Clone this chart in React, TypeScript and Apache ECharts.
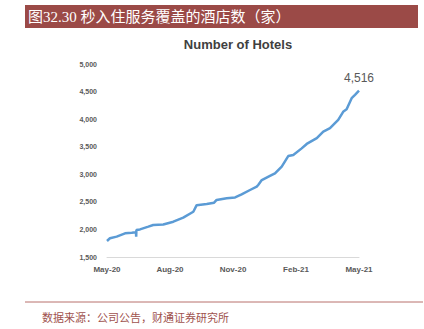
import React, { useEffect, useRef } from "react";
import * as echarts from "echarts";

const xTickLabels = ["May-20", "Aug-20", "Nov-20", "Feb-21", "May-21"];
// months since May-20
const months = [0, 0.14, 0.46, 0.86, 1.18, 1.38, 1.39, 1.4, 1.57, 1.97, 2.2, 2.68, 3.16, 3.63, 4.11, 4.27, 4.75, 5.1, 5.22, 5.7, 6.1, 6.41, 6.81, 7.13, 7.2, 7.37, 7.76, 8.0, 8.32, 8.63, 8.87, 9.27, 9.51, 9.99, 10.3, 10.62, 11.01, 11.26, 11.41, 11.65, 11.81, 12];
const hotels = [1790, 1840, 1870, 1930, 1940, 1948, 1870, 1990, 2000, 2050, 2080, 2090, 2140, 2215, 2320, 2440, 2460, 2485, 2535, 2565, 2580, 2635, 2715, 2775, 2805, 2895, 2970, 3015, 3140, 3330, 3350, 3470, 3550, 3655, 3775, 3835, 3985, 4140, 4180, 4380, 4440, 4516];

const titleText = "图32.30 秒入住服务覆盖的酒店数（家）";
const chartTitle = "Number of Hotels";
const sourceText = "数据来源：公司公告，财通证券研究所";

export default function App() {
  const ref = useRef<HTMLDivElement>(null);
  useEffect(() => {
    if (!ref.current) return;
    const chart = echarts.init(ref.current, undefined, { renderer: "svg" });
    const data = months.map((m, i) => [m, hotels[i]]);
    chart.setOption({
      animation: false,
      backgroundColor: "#ffffff",
      title: {
        text: chartTitle,
        left: 233,
        textAlign: "center",
        top: 33,
        textStyle: { fontSize: 13, fontWeight: "bold", color: "#404040", fontFamily: "Liberation Sans, Arial, sans-serif" },
      },
      grid: { left: 107, right: 65, top: 64, bottom: 72 },
      xAxis: {
        type: "value",
        min: 0,
        max: 12,
        interval: 3,
        axisLine: { show: true, lineStyle: { color: "#d9d9d9", width: 1 } },
        axisTick: { show: false },
        splitLine: { show: false },
        axisLabel: {
          formatter: (v: number) => xTickLabels[Math.round(v / 3)] ?? "",
          color: "#595959",
          fontSize: 8,
          fontWeight: "bold",
          fontFamily: "Liberation Sans, Arial, sans-serif",
          margin: 8,
        },
      },
      yAxis: {
        type: "value",
        min: 1500,
        max: 5000,
        interval: 500,
        axisLine: { show: false },
        axisTick: { show: false },
        splitLine: { show: false },
        axisLabel: {
          formatter: (v: number) => v.toLocaleString("en-US"),
          color: "#595959",
          fontSize: 7,
          fontWeight: "bold",
          fontFamily: "Liberation Sans, Arial, sans-serif",
          margin: 10,
        },
      },
      series: [
        {
          type: "line",
          data,
          showSymbol: false,
          symbol: "none",
          lineStyle: { color: "#5b9bd5", width: 2.5 },
          itemStyle: { color: "#5b9bd5" },
          endLabel: {
            show: true,
            distance: 0,
            align: "center",
            verticalAlign: "bottom",
            offset: [0, -7],
            formatter: (p: any) => Number(p.value[1]).toLocaleString("en-US"),
            color: "#595959",
            fontSize: 12,
            fontFamily: "Liberation Sans, Arial, sans-serif",
          },
        },
      ],
      graphic: [
        { type: "rect", shape: { x: 25, y: 5, width: 393, height: 23 }, style: { fill: "#9b4a47" } },
        {
          type: "text",
          x: 28,
          y: 16.5,
          style: {
            text: titleText,
            fill: "#ffffff",
            fontSize: 15,
            fontFamily: "Liberation Serif, Noto Sans CJK SC, serif",
            verticalAlign: "middle",
          },
        },
        { type: "line", shape: { x1: 25, y1: 302, x2: 423, y2: 302 }, style: { stroke: "#b8706c", lineWidth: 1 } },
        {
          type: "text",
          x: 42,
          y: 317,
          style: {
            text: sourceText,
            fill: "#a0524e",
            fontSize: 11,
            fontFamily: "Noto Sans CJK SC, sans-serif",
            verticalAlign: "middle",
          },
        },
      ],
    });
    return () => chart.dispose();
  }, []);
  return <div ref={ref} style={{ position: "absolute", left: 0, top: 0, width: 424, height: 329 }} />;
}
